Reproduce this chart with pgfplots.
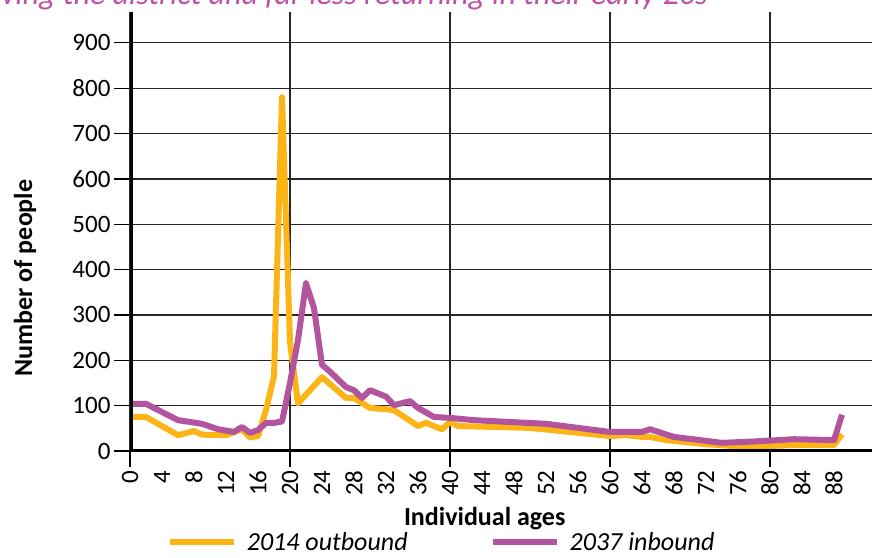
\documentclass[border=0pt]{standalone}
\usepackage{pgfplots}
\pgfplotsset{compat=1.18}
\usepackage{fontspec}
\setmainfont{Carlito}
\definecolor{orng}{RGB}{253,180,22}
\definecolor{purp}{RGB}{178,84,158}
\definecolor{ttl}{RGB}{190,80,170}
\begin{document}
\begin{tikzpicture}[x=1pt,y=1pt]
\useasboundingbox (0,0) rectangle (872,557);
\clip (0,0) rectangle (872,557);
\node[anchor=base east, font=\fontsize{32}{36}\selectfont\itshape, text=ttl, inner sep=0pt] at (708pt,552pt) {ving the district and far less returning in their early 20s};
\begin{axis}[
  at={(130pt,106pt)}, anchor=south west,
  scale only axis, width=742pt, height=439pt,
  xmin=0, xmax=92.75, ymin=0, ymax=968,
  axis lines=left,
  axis line style={-, draw=none},
  ytick={0,100,...,900},
  xtick={0,4,...,88},
  ymajorgrids,
  tick align=outside,
  major tick length=16pt,
  xtick style={draw=none},
  ytick style={line width=1.3pt, black},
  extra x ticks={0,20,40,60,80},
  extra x tick labels={},
  extra x tick style={grid=major, xtick style={draw=black, line width=1.2pt}},
  major grid style={line width=1.3pt, black!85},
  ticklabel style={font=\fontsize{25}{30}\selectfont},
  xticklabel style={rotate=90, anchor=east},
  /pgf/number format/assume math mode=true,
  xlabel={Individual ages},
  ylabel={Number of people},
  every axis x label/.style={at={(axis description cs:0.478,-0.155)}, anchor=center, font=\fontsize{26}{30}\selectfont\bfseries},
  every axis y label/.style={at={(axis description cs:-0.1415,0.394)}, anchor=center, rotate=90, font=\fontsize{26}{30}\selectfont\bfseries},
  legend style={at={(axis description cs:0.42,-0.208)}, anchor=center, draw=none, fill=none, legend columns=2, font=\fontsize{26}{30}\selectfont\itshape, /tikz/every even column/.append style={column sep=80pt}},
  legend image code/.code={\draw[#1] (0pt,0pt) -- (64pt,0pt); \path (72pt,0pt);},
]
\addplot[orng, line width=6pt, line join=round] coordinates {
(0,75) (2,75) (6,35) (8,44) (9,36) (12,35) (14,48) (15,30) (16,33) (17,90) (18,165) (19,780) (20,240) (21,105) (24,163) (27,117) (28,117) (30,95) (32,92) (33,90) (36,55) (37,62) (39,48) (40,64) (41,55) (50,51) (60,33) (62,35) (64,31) (65,31) (67,24) (72,15) (77,9) (83,13) (88,13) (89,37)
};
\addlegendentry{2014 outbound}
\addplot[purp, line width=6pt, line join=round] coordinates {
(0,104) (2,104) (6,68) (9,60) (11,48) (13,42) (14,53) (15,40) (16,46) (17,62) (18,62) (19,65) (20,150) (21,245) (22,370) (23,315) (24,190) (25,175) (27,141) (28,134) (29,117) (30,134) (32,120) (33,101) (35,110) (36,95) (38,75) (40,73) (43,68) (52,60) (60,42) (64,42) (65,48) (68,31) (74,18) (78,21) (83,26) (88,24) (89,80)
};
\addlegendentry{2037 inbound}
\draw[line width=5pt, black] ([yshift=-12pt]rel axis cs:0,0) -- (rel axis cs:0,1);
\draw[line width=5pt, black] ([xshift=-17pt]rel axis cs:0,0) -- (rel axis cs:1,0);
\end{axis}
\end{tikzpicture}
\end{document}
